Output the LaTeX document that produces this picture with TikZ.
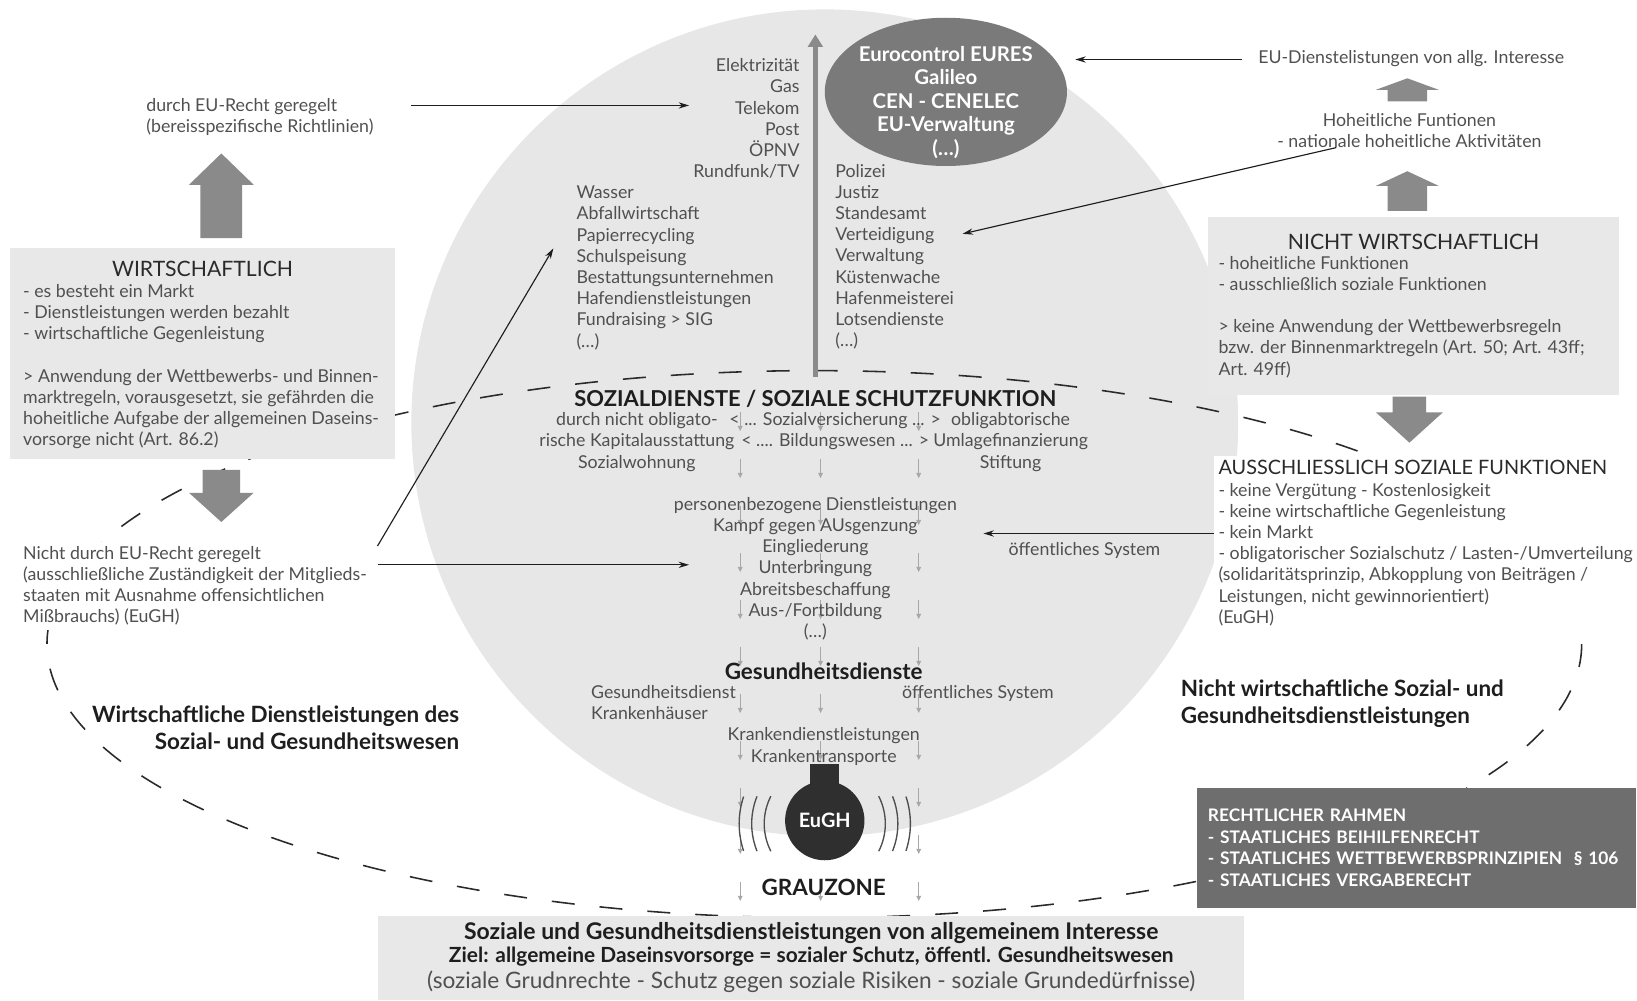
\documentclass[tikz,border=0pt]{standalone}
\usepackage{fontspec}
\setmainfont{Lato}
\usepackage{tikz}
\usetikzlibrary{positioning,shapes,arrows.meta}

\definecolor{circlegray}{HTML}{E7E7E7}
\definecolor{boxgray}{HTML}{E8E8E8}
\definecolor{textgray}{HTML}{505050}
\definecolor{titlegray}{HTML}{2A2A2A}
\definecolor{boldgray}{HTML}{1E1E1E}
\definecolor{blockgray}{HTML}{8A8A8A}
\definecolor{eurogray}{HTML}{7A7A7A}
\definecolor{rahmengray}{HTML}{6E6E6E}
\definecolor{bulbgray}{HTML}{2F2F2F}
\definecolor{dripgray}{HTML}{A8A8A8}
\definecolor{linegray}{HTML}{1E1E1E}

\begin{document}
\begin{tikzpicture}[x=1pt, y=-1pt,
    txt/.style={inner sep=0pt, text=textgray, font=\fontsize{17}{20.3}\selectfont},
    ttl/.style={inner sep=0pt, text=titlegray, font=\fontsize{20.3}{24}\selectfont},
    bold/.style={inner sep=0pt, text=boldgray, font=\bfseries\fontsize{21.5}{25.5}\selectfont},
    panel/.style={fill=boxgray, inner sep=0pt},
    conn/.style={-{Stealth[length=10pt,width=6pt]}, line width=1.1pt, draw=linegray},
    drip/.style={-{Triangle[length=5pt,width=4.5pt]}, line width=1.1pt, draw=dripgray},
    wave/.style={line width=1.3pt, draw=bulbgray!85}]

    \useasboundingbox (0,0) rectangle (1568,958);

    % background shapes
    \fill[circlegray] (790,405) circle [radius=396];
    \draw[dashed, dash pattern=on 22pt off 24pt, line width=1.5pt, draw=titlegray] (780,617) ellipse [x radius=735, y radius=262];
    \foreach \cx in {709,786,880}
        \foreach \cy in {395,440,...,845}
            \draw[drip] (\cx,\cy) -- ++(0,18);

    % left side
    \node[txt, anchor=north west, align=left] (eurecht) at (140,94) {durch EU-Recht geregelt\\(bereisspezifische Richtlinien)};
    \fill[blockgray] (192,228) -- (192,177) -- (181,177) -- (212,147) -- (243,177) -- (232,177) -- (232,228) -- cycle;
    \node[panel, minimum width=368pt, minimum height=202pt] (wbox) at (194,339) {};
    \node[ttl, below=12pt of wbox.north] (wtitle) {WIRTSCHAFTLICH};
    \node[txt, anchor=north west, align=left] (wlist) at (22,272) {- es besteht ein Markt\\- Dienstleistungen werden bezahlt\\- wirtschaftliche Gegenleistung\\[20.3pt]> Anwendung der Wettbewerbs- und Binnen-\\marktregeln, vorausgesetzt, sie gefährden die\\hoheitliche Aufgabe der allgemeinen Daseins-\\vorsorge nicht (Art. 86.2)};
    \fill[blockgray] (194,450) -- (194,472) -- (181,472) -- (212,500) -- (243,472) -- (230,472) -- (230,450) -- cycle;
    \node[txt, anchor=north west, align=left, fill=white, inner sep=4pt] (nichteu) at (18,519) {Nicht durch EU-Recht geregelt\\(ausschließliche Zuständigkeit der Mitglieds-\\staaten mit Ausnahme offensichtlichen\\Mißbrauchs) (EuGH)};
    \node[bold, anchor=north east, align=right] (wdl) at (440,676) {Wirtschaftliche Dienstleistungen des\\Sozial- und Gesundheitswesen};

    % circle contents
    \node[txt, anchor=north east, align=right] (util) at (766,56) {Elektrizität\\Gas\\Telekom\\Post\\ÖPNV\\Rundfunk/TV};
    \node[txt, anchor=north west, align=left] (water) at (552,178) {Wasser\\Abfallwirtschaft\\Papierrecycling\\Schulspeisung\\Bestattungsunternehmen\\Hafendienstleistungen\\Fundraising > SIG\\(…)};
    \node[txt, anchor=north west, align=left] (sovlist) at (800,157) {Polizei\\Justiz\\Standesamt\\Verteidigung\\Verwaltung\\Küstenwache\\Hafenmeisterei\\Lotsendienste\\(…)};
    \node[ellipse, fill=eurogray, minimum width=232pt, minimum height=142pt, inner sep=0pt] (euro) at (906,88) {};
    \node[inner sep=0pt, text=white, align=center, font=\bfseries\fontsize{19.5}{22.5}\selectfont, anchor=north] (eurotxt) at (906,44) {Eurocontrol EURES\\Galileo\\CEN - CENELEC\\EU-Verwaltung\\(…)};

    \node[bold, anchor=base, font=\bfseries\fontsize{21}{25}\selectfont] (soztitle) at (781,389) {SOZIALDIENSTE / SOZIALE SCHUTZFUNKTION};
    \node[txt, anchor=north, align=center] (sozleft) at (610,395) {durch nicht obligato-\\rische Kapitalausstattung\\Sozialwohnung};
    \node[txt, anchor=north, align=center] (sozmid) at (800,395) {< ... Sozialversicherung ... >\\< .... Bildungswesen ... >};
    \node[txt, anchor=north, align=center] (sozright) at (968,395) {obligabtorische\\Umlagefinanzierung\\Stiftung};
    \node[txt, anchor=north, align=center] (pers) at (781,476) {personenbezogene Dienstleistungen\\Kampf gegen AUsgenzung\\Eingliederung\\Unterbringung\\Abreitsbeschaffung\\Aus-/Fortbildung\\(…)};
    \node[txt, anchor=base west] (oeffsys) at (966,532) {öffentliches System};

    \node[bold, anchor=base] (gesund) at (789,651) {Gesundheitsdienste};
    \node[txt, anchor=north west, align=left] (gesleft) at (566,656) {Gesundheitsdienst\\Krankenhäuser};
    \node[txt, anchor=base west] (gesright) at (864,669) {öffentliches System};
    \node[txt, anchor=north, align=center] (kranken) at (789,697) {Krankendienstleistungen\\Krankentransporte};

    % EuGH
    \node[circle, fill=bulbgray, minimum size=76pt, inner sep=0pt, text=white, font=\bfseries\fontsize{19}{20}\selectfont] (eugh) at (790,786) {EuGH};
    \fill[bulbgray] ([xshift=-14pt,yshift=-4pt]eugh.north) rectangle ([xshift=14pt,yshift=16pt]eugh.north);
    \foreach \r/\a in {58/27,70/22,82/18.5} {
        \draw[wave] ([yshift=-3pt]eugh.center) ++(180-\a:\r) arc [start angle=180-\a, end angle=180+\a, radius=\r];
        \draw[wave] ([yshift=-3pt]eugh.center) ++(-\a:\r) arc [start angle=-\a, end angle=\a, radius=\r];
    }
    \node[bold, anchor=base] (grau) at (789,858) {GRAUZONE};

    \node[panel, minimum width=829pt, minimum height=81pt, align=center, font=\fontsize{21}{22}\selectfont] (gemein) at (777,917.5) {{\color{boldgray}\bfseries\fontsize{22}{22}\selectfont Soziale und Gesundheitsdienstleistungen von allgemeinem Interesse}\\{\color{boldgray}\bfseries\fontsize{20}{22}\selectfont Ziel: allgemeine Daseinsvorsorge = sozialer Schutz, öffentl. Gesundheitswesen}\\[3pt]{\color{textgray}\fontsize{21.7}{22}\selectfont (soziale Grudnrechte - Schutz gegen soziale Risiken - soziale Grundedürfnisse)}};

    % right side
    \node[txt, anchor=base west] (euint) at (1205,61) {EU-Dienstelistungen von allg. Interesse};
    \fill[blockgray] (1329,97) -- (1329,86) -- (1318,86) -- (1348,75) -- (1378,86) -- (1367,86) -- (1367,97) -- cycle;
    \node[txt, anchor=north, align=center] (hoheit) at (1350,108) {Hoheitliche Funtionen\\- nationale hoheitliche Aktivitäten};
    \fill[blockgray] (1329,202) -- (1329,178) -- (1318,178) -- (1348,164) -- (1378,178) -- (1367,178) -- (1367,202) -- cycle;
    \node[panel, minimum width=394pt, minimum height=170pt] (nwbox) at (1354,293) {};
    \node[ttl, below=16pt of nwbox.north] (nwtitle) {NICHT WIRTSCHAFTLICH};
    \node[txt, anchor=north west, align=left] (nwlist) at (1167,245) {- hoheitliche Funktionen\\- ausschließlich soziale Funktionen\\[20.3pt]> keine Anwendung der Wettbewerbsregeln\\bzw. der Binnenmarktregeln (Art. 50; Art. 43ff;\\Art. 49ff)};
    \fill[blockgray] (1334,380) -- (1334,395) -- (1318,395) -- (1350,424) -- (1382,395) -- (1366,395) -- (1366,380) -- cycle;
    \node[txt, anchor=north west, align=left, fill=white, inner sep=4pt] (aus) at (1163,437) {{\color{titlegray}\fontsize{19}{21}\selectfont AUSSCHLIESSLICH SOZIALE FUNKTIONEN}\\- keine Vergütung - Kostenlosigkeit\\- keine wirtschaftliche Gegenleistung\\- kein Markt\\- obligatorischer Sozialschutz / Lasten-/Umverteilung\\(solidaritätsprinzip, Abkopplung von Beiträgen /\\Leistungen, nicht gewinnorientiert)\\(EuGH)};
    \node[bold, anchor=north west, align=left] (nwdl) at (1131,651) {Nicht wirtschaftliche Sozial- und\\Gesundheitsdienstleistungen};
    \node[fill=rahmengray, text=white, minimum width=420pt, minimum height=115pt, text width=400pt, align=left, inner xsep=10pt, inner ysep=0pt, font=\bfseries\fontsize{16.6}{20.7}\selectfont] (rahmen) at (1357,812) {RECHTLICHER RAHMEN\\- STAATLICHES BEIHILFENRECHT\\- STAATLICHES WETTBEWERBSPRINZIPIEN~~§ 106\\- STAATLICHES VERGABERECHT};

    % connectors
    \coordinate (tiputil) at (660,101);
    \coordinate (tipwater) at (530,238);
    \coordinate (tippers) at (660,541);
    \coordinate (tipeuro) at (1030,57);
    \coordinate (tipsov) at (922,224);
    \coordinate (tipoeff) at (942,511);
    \coordinate (axtop) at (781,33);
    \draw[-{Triangle[length=12pt,width=14pt]}, line width=5pt, draw=blockgray, shorten <=12pt] (soztitle.north) -- (axtop);
    \draw[conn, shorten <=36pt] (eurecht.east |- tiputil) -- (tiputil);
    \draw[conn] ([shift={(6,4)}]nichteu.north east) -- (tipwater);
    \draw[conn, shorten <=6pt] (nichteu.east |- tippers) -- (tippers);
    \draw[conn, shorten <=15pt] (euint.west |- tipeuro) -- (tipeuro);
    \draw[conn] ([xshift=-70pt]hoheit.south) -- (tipsov);
    \draw[conn] (aus.west |- tipoeff) -- (tipoeff);
\end{tikzpicture}
\end{document}
